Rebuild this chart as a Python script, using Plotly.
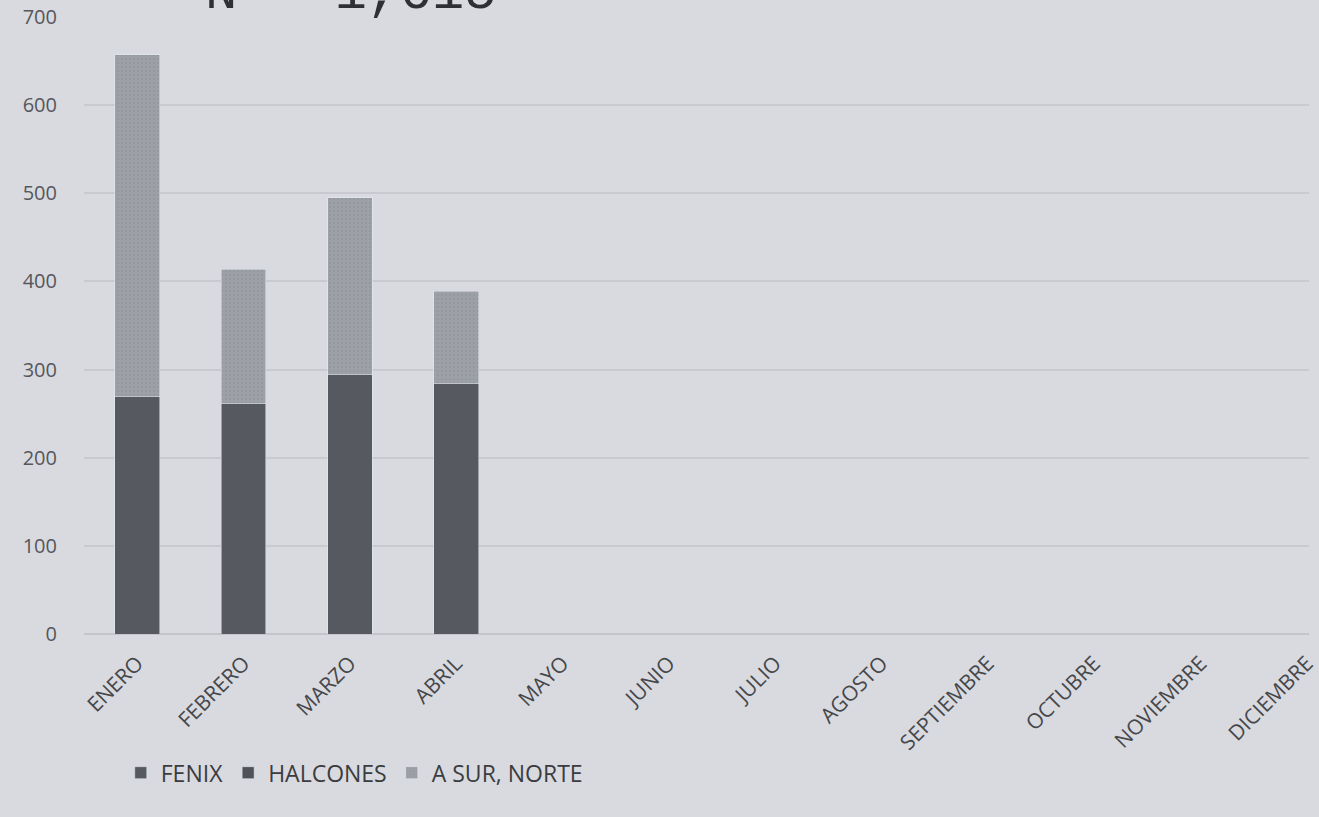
import plotly.graph_objects as go

meses = ["ENERO", "FEBRERO", "MARZO", "ABRIL", "MAYO", "JUNIO", "JULIO",
         "AGOSTO", "SEPTIEMBRE", "OCTUBRE", "NOVIEMBRE", "DICIEMBRE"]
fenix = [269, 261, 294, 284, None, None, None, None, None, None, None, None]
halcones = [0, 0, 0, 0, None, None, None, None, None, None, None, None]
a_sur_norte = [388, 153, 201, 105, None, None, None, None, None, None, None, None]
y_ticks = [0, 100, 200, 300, 400, 500, 600, 700]

fondo = "#d9dadf"
fig = go.Figure()
fig.add_trace(go.Bar(name="FENIX", x=meses, y=fenix, marker_color="#56595f"))
fig.add_trace(go.Bar(name="HALCONES", x=meses, y=halcones, marker_color="#4f5358"))
fig.add_trace(go.Bar(name="A SUR, NORTE", x=meses, y=a_sur_norte,
                     marker=dict(color="#9da0a6",
                                 pattern=dict(shape=".", size=4, solidity=0.15,
                                              fgcolor="#7f8288"))))

fig.update_layout(
    barmode="stack",
    bargap=0.58,
    width=1319, height=817,
    margin=dict(l=84, r=0, t=17, b=183),
    paper_bgcolor=fondo, plot_bgcolor=fondo,
    font=dict(family="Open Sans, Liberation Sans, sans-serif", color="#4a4c50"),
    showlegend=True,
    legend=dict(orientation="h", x=0.03, xanchor="left", y=-0.19, yanchor="top",
                font=dict(size=23, color="#3a3c40"), bgcolor="rgba(0,0,0,0)",
                traceorder="normal", itemwidth=30),
    xaxis=dict(range=[-0.5, 11.02], tickangle=-45, showgrid=False,
               tickfont=dict(size=21, color="#45474b"), showline=False,
               ticks="", fixedrange=True, ticklabelstandoff=12),
    yaxis=dict(range=[0, 700], tickvals=y_ticks, showgrid=True,
               gridcolor="#c9cacf", gridwidth=1.5, zeroline=True,
               zerolinecolor="#c4c5ca", zerolinewidth=1.5,
               tickfont=dict(size=20, color="#55575c"), ticklabelstandoff=26),
    annotations=[dict(text="N = 1,615", xref="paper", yref="paper",
                      x=0.097, y=0.985, xanchor="left", yanchor="bottom",
                      showarrow=False,
                      font=dict(family="Liberation Mono, Courier New, monospace",
                                size=54, color="#2e3034"))],
)

fig.write_html("out.html")
